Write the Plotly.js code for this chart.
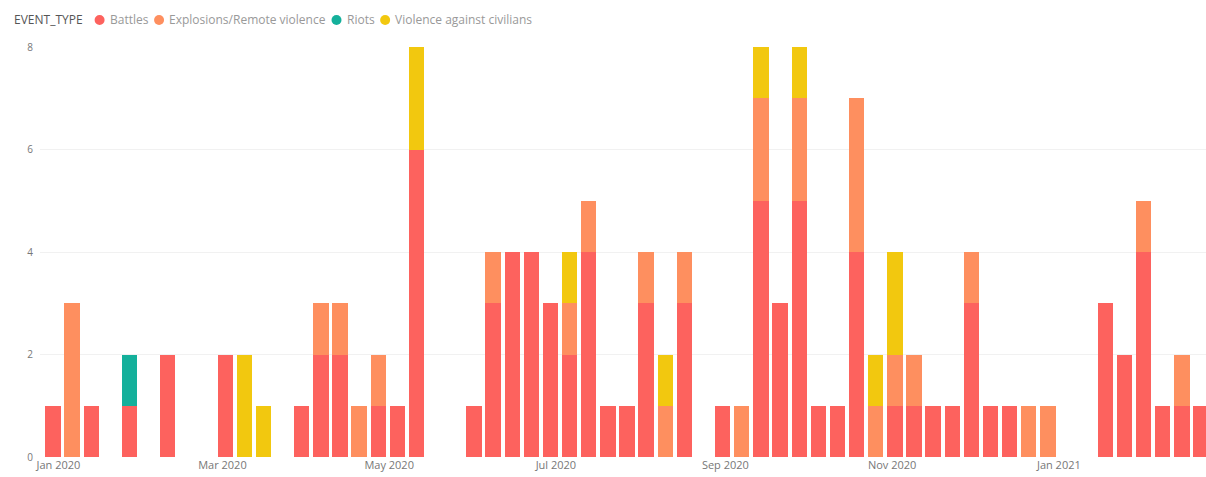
<!DOCTYPE html>
<html><head><meta charset="utf-8">
<script src="https://cdn.plot.ly/plotly-3.0.1.min.js"></script>
<style>html,body{margin:0;padding:0;background:#fff}#chart{width:1206px;height:477px}</style>
</head><body><div id="chart"></div>
<script>
const weeks = ["2019-12-30","2020-01-06","2020-01-13","2020-01-20","2020-01-27","2020-02-03","2020-02-10","2020-02-17","2020-02-24","2020-03-02",
"2020-03-09","2020-03-16","2020-03-23","2020-03-30","2020-04-06","2020-04-13","2020-04-20","2020-04-27","2020-05-04","2020-05-11",
"2020-05-18","2020-05-25","2020-06-01","2020-06-08","2020-06-15","2020-06-22","2020-06-29","2020-07-06","2020-07-13","2020-07-20",
"2020-07-27","2020-08-03","2020-08-10","2020-08-17","2020-08-24","2020-08-31","2020-09-07","2020-09-14","2020-09-21","2020-09-28",
"2020-10-05","2020-10-12","2020-10-19","2020-10-26","2020-11-02","2020-11-09","2020-11-16","2020-11-23","2020-11-30","2020-12-07",
"2020-12-14","2020-12-21","2020-12-28","2021-01-04","2021-01-11","2021-01-18","2021-01-25","2021-02-01","2021-02-08","2021-02-15",
"2021-02-22"];
const battles = [1,0,1,0,1,0,2,0,0,2, 0,0,0,1,2,2,0,1,1,6, 0,0,1,3,4,4,3,2,4,1, 1,3,0,3,0,1,0,5,3,5, 1,1,4,0,1,1,1,1,3,1, 1,0,0,0,0,3,2,4,1,1, 1];
const explosions = [0,3,0,0,0,0,0,0,0,0, 0,0,0,0,1,1,1,1,0,0, 0,0,0,1,0,0,0,1,1,0, 0,1,1,1,0,0,1,2,0,2, 0,0,3,1,1,1,0,0,1,0, 0,1,1,0,0,0,0,1,0,1, 0];
const riots = [0,0,0,0,1,0,0,0,0,0, 0,0,0,0,0,0,0,0,0,0, 0,0,0,0,0,0,0,0,0,0, 0,0,0,0,0,0,0,0,0,0, 0,0,0,0,0,0,0,0,0,0, 0,0,0,0,0,0,0,0,0,0, 0];
const violence = [0,0,0,0,0,0,0,0,0,0, 2,1,0,0,0,0,0,0,0,2, 0,0,0,0,0,0,0,1,0,0, 0,0,1,0,0,0,0,1,0,1, 0,0,0,1,2,0,0,0,0,0, 0,0,0,0,0,0,0,0,0,0, 0];
const legendTitle = "EVENT_TYPE";
const seriesNames = ["Battles","Explosions/Remote violence","Riots","Violence against civilians"];
const seriesColors = ["#FD625E","#FE8F5F","#14B09B","#F2C80F"];
const seriesValues = [battles, explosions, riots, violence];

const W = 1206, H = 477, ML = 40, MR = 0, MT = 47, MB = 20;
const PW = W - ML - MR, PH = H - MT - MB;
const FONT = "Open Sans, sans-serif";
const LFS = 12;

const traces = seriesValues.map((vals, i) => ({
  type:"bar", x:weeks, y:vals, name:seriesNames[i], marker:{color:seriesColors[i]}, showlegend:false, hoverinfo:"skip"
}));

// custom legend (Power BI style: circle markers close to labels)
const ctx = document.createElement("canvas").getContext("2d");
ctx.font = LFS + "px Open Sans";
const px2x = p => (p - ML) / PW;
const legY = 1 + (MT - 20) / PH;
const annotations = [], shapes = [];
let cur = 12;
annotations.push({xref:"paper", yref:"paper", x:px2x(cur), y:legY, xanchor:"left", yanchor:"middle", showarrow:false,
  text:legendTitle, font:{family:FONT, size:LFS, color:"#555"}});
cur += ctx.measureText(legendTitle).width + 6;
seriesNames.forEach((n, i) => {
  const cx = cur + 13;
  const r = 5;
  shapes.push({type:"circle", xref:"paper", yref:"paper", x0:px2x(cx - r), x1:px2x(cx + r),
    y0:legY - r / PH, y1:legY + r / PH, fillcolor:seriesColors[i], line:{width:0}});
  const tx = cx + 8;
  annotations.push({xref:"paper", yref:"paper", x:px2x(tx), y:legY, xanchor:"left", yanchor:"middle", showarrow:false,
    text:n, font:{family:FONT, size:LFS, color:"#999"}});
  cur = tx + ctx.measureText(n).width;
});

const layout = {
  width:W, height:H,
  margin:{l:ML, r:MR, t:MT, b:MB},
  barmode:"stack", bargap:0.2,
  paper_bgcolor:"#fff", plot_bgcolor:"#fff",
  font:{family:FONT, size:11, color:"#777"},
  xaxis:{type:"date", range:["2019-12-25 06:00","2021-02-23 20:00"], tick0:"2020-01-01", dtick:"M2", tickformat:"%b %Y",
         showgrid:false, zeroline:false, showline:false, ticks:"", tickfont:{size:11, color:"#777"}},
  yaxis:{range:[0,8], dtick:2, showgrid:true, gridcolor:"#f1f1f1", zeroline:false, showline:false, ticks:"",
         ticklabelstandoff:6, tickfont:{size:10, color:"#777"}},
  showlegend:false,
  annotations:annotations, shapes:shapes
};
Plotly.newPlot("chart", traces, layout, {displayModeBar:false, staticPlot:true});
</script></body></html>
